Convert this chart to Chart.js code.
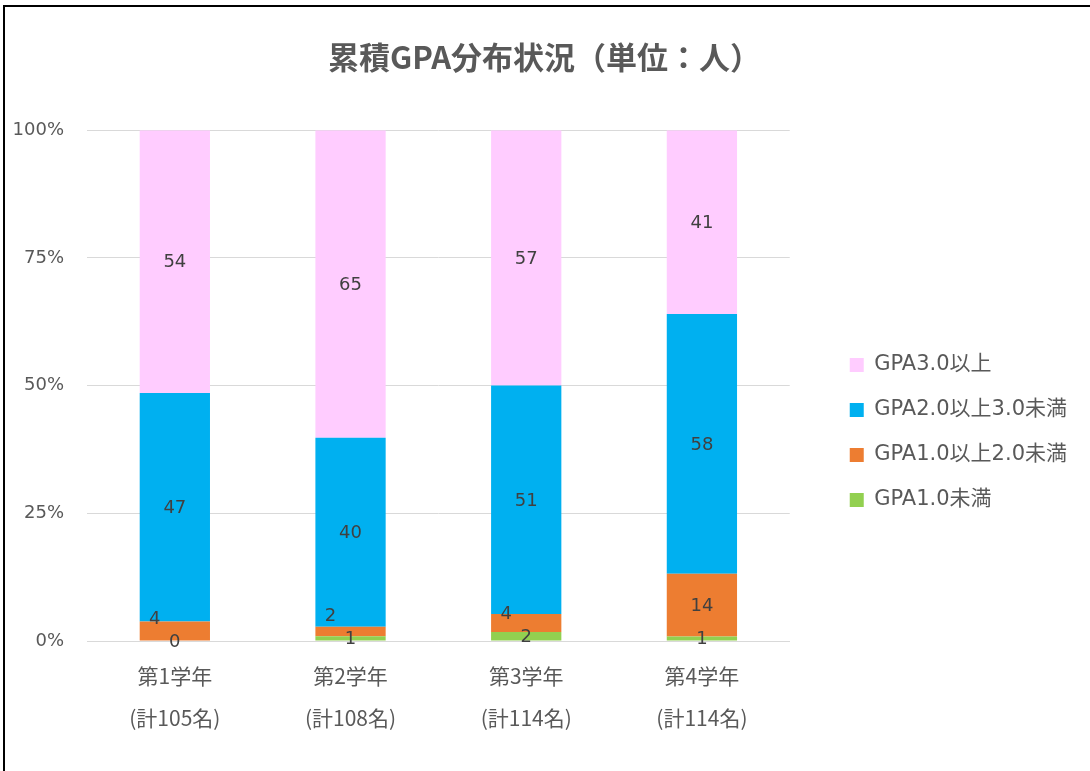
<!DOCTYPE html>
<html>
<head>
<meta charset="utf-8">
<script src="https://cdn.jsdelivr.net/npm/chart.js@4.4.1/dist/chart.umd.min.js"></script>
<style>
  html, body { margin: 0; padding: 0; background: #ffffff; }
  canvas { display: block; }
</style>
</head>
<body>
<canvas id="c" width="1090" height="771"></canvas>
<script>
// ---- data ----
const yearLabels = ['第1学年', '第2学年', '第3学年', '第4学年'];
const totalLabels = ['(計105名)', '(計108名)', '(計114名)', '(計114名)'];
const seriesNames = ['GPA1.0未満', 'GPA1.0以上2.0未満', 'GPA2.0以上3.0未満', 'GPA3.0以上'];
const gpaUnder1 = [0, 1, 2, 1];
const gpa1to2 = [4, 2, 4, 14];
const gpa2to3 = [47, 40, 51, 58];
const gpa3plus = [54, 65, 57, 41];
const yTickValues = [0, 25, 50, 75, 100];
const seriesColors = ['#92D050', '#ED7D31', '#00B0F0', '#FFCCFF'];

const counts = [gpaUnder1, gpa1to2, gpa2to3, gpa3plus];
const totals = yearLabels.map((_, i) => counts.reduce((s, arr) => s + arr[i], 0));
const categories = yearLabels.map((y, i) => [y, totalLabels[i]]);

const LATIN_CJK = "'DejaVu Sans', 'Noto Sans CJK JP', sans-serif";
const CJK = "'Noto Sans CJK JP', 'DejaVu Sans', sans-serif";

const datasets = counts.map((arr, k) => ({
  label: seriesNames[k],
  data: arr.map((v, i) => v / totals[i] * 100),
  rawCounts: arr,
  backgroundColor: seriesColors[k],
  borderWidth: 0,
  barPercentage: 0.4,
  categoryPercentage: 1.0,
  stack: 's'
}));

const frame = {
  id: 'frame',
  beforeDraw(chart) {
    const ctx = chart.ctx;
    ctx.save();
    ctx.fillStyle = '#ffffff';
    ctx.fillRect(0, 0, chart.width, chart.height);
    ctx.fillStyle = '#000000';
    ctx.fillRect(3, 5, chart.width - 3, 2);
    ctx.fillRect(3, 5, 2, chart.height - 5);
    ctx.restore();
  }
};

const segLabels = {
  id: 'segLabels',
  afterDatasetsDraw(chart) {
    const ctx = chart.ctx;
    ctx.save();
    ctx.font = "18px " + LATIN_CJK;
    ctx.fillStyle = '#404040';
    ctx.textAlign = 'center';
    ctx.textBaseline = 'middle';
    const n = chart.data.labels.length;
    for (let i = 0; i < n; i++) {
      let prevY = null;
      chart.data.datasets.forEach((ds, k) => {
        const el = chart.getDatasetMeta(k).data[i];
        let x = el.x;
        let y = (el.y + el.base) / 2;
        if (prevY !== null && prevY - y < 18) {
          y = prevY - 23;
          x -= 20;
        }
        ctx.fillText(String(ds.rawCounts[i]), x, y + 1);
        prevY = y;
      });
    }
    ctx.restore();
  }
};

new Chart(document.getElementById('c'), {
  type: 'bar',
  data: { labels: categories, datasets },
  plugins: [frame, segLabels],
  options: {
    responsive: false,
    animation: false,
    devicePixelRatio: 1,
    layout: { padding: { left: 12, right: 13, top: 0, bottom: 18 } },
    plugins: {
      title: {
        display: true,
        text: '累積GPA分布状況（単位：人）',
        color: '#595959',
        font: { size: 31, weight: 'bold', family: CJK },
        padding: { top: 39, bottom: 54 }
      },
      legend: {
        position: 'right',
        reverse: true,
        title: { display: true, text: '', font: { size: 10, lineHeight: 1.2 }, padding: 50 },
        labels: {
          boxWidth: 14,
          boxHeight: 14,
          padding: 24,
          color: '#595959',
          font: { size: 21, family: LATIN_CJK }
        }
      },
      tooltip: { enabled: false }
    },
    scales: {
      x: {
        stacked: true,
        grid: { display: false, drawTicks: false },
        border: { display: true, color: '#d9d9d9', width: 1 },
        ticks: {
          color: '#595959',
          padding: 14,
          font: { size: 21, family: CJK, lineHeight: 2.0 }
        }
      },
      y: {
        stacked: true,
        min: 0,
        max: 100,
        afterBuildTicks(s) { s.ticks = yTickValues.map(v => ({ value: v })); },
        afterFit(s) { s.width = 75; },
        grid: { color: '#d9d9d9', drawTicks: false },
        border: { display: false },
        ticks: {
          color: '#595959',
          padding: 23,
          font: { size: 18, family: LATIN_CJK },
          callback: v => v + '%'
        }
      },
      yR: {
        position: 'right',
        display: false,
        afterFit(s) { s.width = 36; }
      }
    }
  }
});
</script>
</body>
</html>
